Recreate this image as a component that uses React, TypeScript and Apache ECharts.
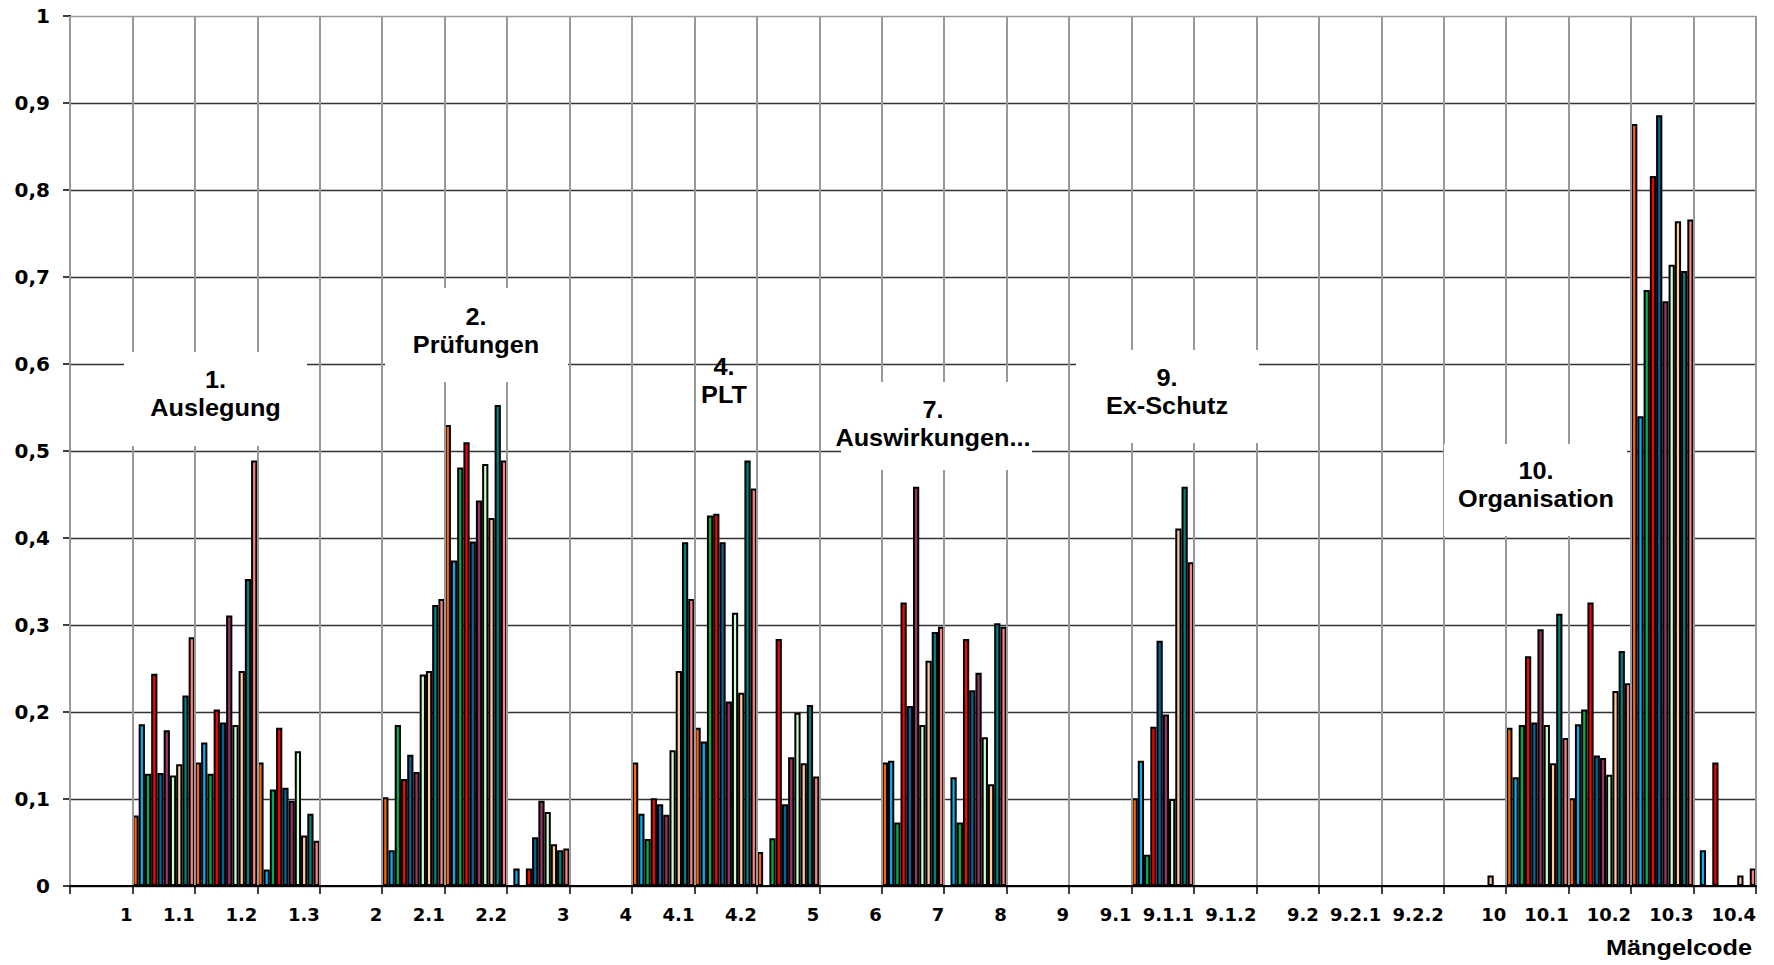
import React, { useEffect, useRef } from "react";
import * as echarts from "echarts";

// Category codes (x axis)
const categories = [
  "1", "1.1", "1.2", "1.3", "2", "2.1", "2.2", "3", "4", "4.1", "4.2", "5", "6", "7", "8",
  "9", "9.1", "9.1.1", "9.1.2", "9.2", "9.2.1", "9.2.2", "10", "10.1", "10.2", "10.3", "10.4",
];

// Series values (one value per category)
const sOrange = [0, 0.081, 0.142, 0.142, 0, 0.102, 0.530, 0, 0, 0.142, 0.182, 0.039, 0, 0.142, 0, 0, 0, 0.101, 0, 0, 0, 0, 0, 0.182, 0.101, 0.876, 0];
const sLightBlue = [0, 0.186, 0.165, 0.019, 0, 0.041, 0.374, 0.020, 0, 0.083, 0.166, 0, 0, 0.144, 0.125, 0, 0, 0.144, 0, 0, 0, 0, 0, 0.125, 0.186, 0.540, 0.041];
const sGreen = [0, 0.129, 0.129, 0.111, 0, 0.185, 0.481, 0, 0, 0.054, 0.426, 0.055, 0, 0.073, 0.073, 0, 0, 0.036, 0, 0, 0, 0, 0, 0.185, 0.203, 0.685, 0];
const sRed = [0, 0.244, 0.203, 0.182, 0, 0.123, 0.510, 0.020, 0, 0.101, 0.428, 0.284, 0, 0.326, 0.284, 0, 0, 0.183, 0, 0, 0, 0, 0, 0.264, 0.326, 0.816, 0.142];
const sDarkBlue = [0, 0.130, 0.188, 0.113, 0, 0.151, 0.396, 0.056, 0, 0.094, 0.395, 0.094, 0, 0.207, 0.225, 0, 0, 0.282, 0, 0, 0, 0, 0, 0.188, 0.150, 0.886, 0];
const sPurple = [0, 0.179, 0.311, 0.098, 0, 0.131, 0.443, 0.098, 0, 0.082, 0.212, 0.148, 0, 0.459, 0.245, 0, 0, 0.197, 0, 0, 0, 0, 0, 0.295, 0.147, 0.672, 0];
const sLightGreen = [0, 0.127, 0.185, 0.155, 0, 0.243, 0.485, 0.085, 0, 0.156, 0.314, 0.199, 0, 0.185, 0.171, 0, 0, 0.100, 0, 0, 0, 0, 0, 0.185, 0.128, 0.714, 0];
const sPeach = [0, 0.140, 0.247, 0.058, 0, 0.247, 0.423, 0.048, 0, 0.247, 0.222, 0.141, 0, 0.259, 0.117, 0, 0, 0.411, 0, 0, 0, 0, 0.012, 0.141, 0.224, 0.764, 0.012];
const sTeal = [0, 0.219, 0.353, 0.083, 0, 0.323, 0.553, 0.041, 0, 0.395, 0.489, 0.208, 0, 0.292, 0.302, 0, 0, 0.459, 0, 0, 0, 0, 0, 0.313, 0.270, 0.707, 0];
const sSalmon = [0, 0.286, 0.489, 0.052, 0, 0.330, 0.489, 0.043, 0, 0.330, 0.457, 0.126, 0, 0.298, 0.298, 0, 0, 0.372, 0, 0, 0, 0, 0, 0.170, 0.233, 0.766, 0.020];

const seriesValues = [sOrange, sLightBlue, sGreen, sRed, sDarkBlue, sPurple, sLightGreen, sPeach, sTeal, sSalmon];
const seriesColors = ["#FF6600", "#00B0F0", "#00B050", "#FF0000", "#006699", "#993366", "#CCFFCC", "#FFCC99", "#008080", "#FF8080"];

// Group annotations
const groupTexts = ["1.\nAuslegung", "2.\nPrüfungen", "4.\nPLT", "7.\nAuswirkungen...", "9.\nEx-Schutz", "10.\nOrganisation"];
const axisTitle = "Mängelcode";

const FONT = "'Liberation Sans', Arial, sans-serif";
const AXIS_FONT = "'DejaVu Sans', sans-serif";

export default function App() {
  const ref = useRef<HTMLDivElement>(null);

  useEffect(() => {
    if (!ref.current) return;
    const chart = echarts.init(ref.current, undefined, { renderer: "svg" });

    const boxes = [
      { rect: [124, 352, 183, 94], cx: 215.5, cy: 393.5 },
      { rect: [385, 288, 183, 94], cx: 476, cy: 331 },
      { rect: null, cx: 724, cy: 381 },
      { rect: [841, 382, 191, 88], cx: 933, cy: 424 },
      { rect: [1076, 350, 183, 93], cx: 1167, cy: 392 },
      { rect: [1444, 444, 183, 92], cx: 1536, cy: 484.5 },
    ];

    const graphic: any[] = [];
    boxes.forEach((b, i) => {
      if (b.rect) {
        graphic.push({
          type: "rect",
          shape: { x: b.rect[0], y: b.rect[1], width: b.rect[2], height: b.rect[3] },
          style: { fill: "#fff" },
          z: 100,
        });
      }
      graphic.push({
        type: "text",
        x: b.cx,
        y: b.cy,
        scaleX: 1.1,
        z: 101,
        style: {
          text: groupTexts[i],
          fontSize: 23,
          fontWeight: "bold",
          fontFamily: FONT,
          fill: "#000",
          align: "center",
          verticalAlign: "middle",
          lineHeight: 28,
        },
      });
    });
    graphic.push({
      type: "text",
      x: 1752,
      y: 948,
      scaleX: 1.15,
      z: 101,
      style: {
        text: axisTitle,
        fontSize: 22,
        fontWeight: "bold",
        fontFamily: FONT,
        fill: "#000",
        align: "right",
        verticalAlign: "middle",
      },
    });

    const hColors = Array(10).fill("#333").concat(["#999"]);

    chart.setOption({
      animation: false,
      backgroundColor: "#fff",
      grid: { left: 70, top: 16, width: 1686, height: 870, containLabel: false },
      xAxis: [
        {
          type: "category",
          data: categories,
          boundaryGap: true,
          axisLine: { show: true, lineStyle: { color: "#000", width: 2 } },
          axisTick: { show: true, interval: 0, length: 8, lineStyle: { color: "#000", width: 1.5 } },
          axisLabel: { show: false },
          splitLine: { show: true, interval: 0, lineStyle: { color: "#999", width: 2 } },
          z: 3,
        },
        {
          type: "value",
          min: 0,
          max: categories.length,
          interval: 1,
          position: "bottom",
          axisLine: { show: false },
          axisTick: { show: false },
          splitLine: { show: false },
          axisLabel: {
            show: true,
            align: "right",
            margin: 19,
            fontSize: 18,
            fontWeight: "bold",
            fontFamily: AXIS_FONT,
            color: "#000",
            showMinLabel: false,
            showMaxLabel: true,
            formatter: (v: number) => {
              const i = Math.round(v);
              return i >= 1 && i <= categories.length ? categories[i - 1] : "";
            },
          },
        },
      ],
      yAxis: {
        type: "value",
        min: 0,
        max: 1,
        interval: 0.1,
        axisLine: { show: true, lineStyle: { color: "#000", width: 2 } },
        axisTick: { show: true, length: 7, lineStyle: { color: "#000", width: 1.5 } },
        axisLabel: {
          margin: 20,
          fontSize: 20,
          fontWeight: "bold",
          fontFamily: AXIS_FONT,
          color: "#000",
          formatter: (v: number) => (v === 0 ? "0" : v >= 0.999 ? "1" : v.toFixed(1).replace(".", ",")),
        },
        splitLine: { show: true, lineStyle: { color: hColors, width: 1.3 } },
      },
      series: seriesValues.map((vals, i) => ({
        type: "bar",
        name: "Reihe " + (i + 1),
        xAxisIndex: 0,
        data: vals.map((v) => (v === 0 ? null : v)),
        barGap: "0%",
        barCategoryGap: "0%",
        itemStyle: { color: seriesColors[i], borderColor: "#000", borderWidth: 2 },
        z: 2,
      })),
      graphic,
    });

    return () => chart.dispose();
  }, []);

  return (
    <div
      ref={ref}
      style={{ position: "fixed", left: 0, top: 0, width: 1774, height: 965, background: "#fff" }}
    />
  );
}
